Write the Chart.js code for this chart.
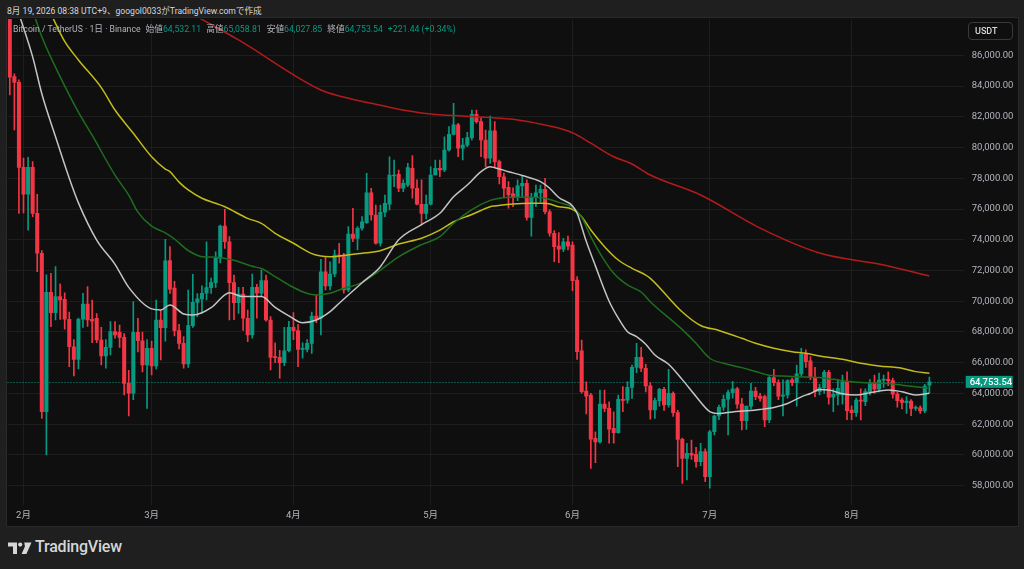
<!DOCTYPE html>
<html><head><meta charset="utf-8">
<script src="https://cdn.jsdelivr.net/npm/chart.js@4.4.1/dist/chart.umd.min.js"></script>
<style>
html,body{margin:0;padding:0;background:#1f1f1f;width:1024px;height:569px;overflow:hidden;font-family:Roboto,'Noto Sans CJK JP',sans-serif;}
#hdr{position:absolute;left:7px;top:5px;font-size:8.6px;color:#d6d8de;white-space:nowrap;line-height:12px;}
#panel{position:absolute;left:7px;top:18px;width:1011px;height:508px;background:#0f0f0f;outline:1px solid #2a2a2a;}
#wrap{position:absolute;left:0;top:0;width:1011px;height:508px;}
#legend{position:absolute;left:6px;top:5px;font-size:8.7px;color:#b2b5be;white-space:nowrap;line-height:12px;}
#legend .g{color:#089981}
#legend .k{margin-left:5px}
#usdt{position:absolute;left:961px;top:4px;width:45px;height:18px;box-sizing:border-box;border:1px solid #3a3a3a;border-radius:4px;color:#d8d8d8;font-size:9px;font-weight:500;line-height:16px;padding-left:6px;}
#logo{position:absolute;left:8px;top:540px;height:16px;}
#logotxt{position:absolute;left:35px;top:537px;font-size:16px;font-weight:500;color:#d6d6d6;letter-spacing:-0.2px;}
</style></head>
<body>
<div id="hdr">8月 19, 2026 08:38 UTC+9、googol0033がTradingView.comで作成</div>
<div id="panel">
  <div id="wrap"><canvas id="c"></canvas></div>
  <div id="legend">Bitcoin / TetherUS · 1日 · Binance<span class="k">始値</span><span class="g">64,532.11</span><span class="k">高値</span><span class="g">65,058.81</span><span class="k">安値</span><span class="g">64,027.85</span><span class="k">終値</span><span class="g">64,753.54</span><span class="g k">+221.44 (+0.34%)</span></div>
  <div id="usdt">USDT</div>
</div>
<svg id="logo" width="24" height="14" viewBox="0 0 24 14"><path d="M0 1.5H9V13H5V5.5H0Z" fill="#d6d6d6"/><circle cx="12.2" cy="3.6" r="2.1" fill="#d6d6d6"/><path d="M16.3 1.5H23.5L18.4 13H13.6L16.9 5.6Z" fill="#d6d6d6"/></svg>
<div id="logotxt">TradingView</div>
<script>
// ---- categories: daily candles from 2026-01-29, axis extends to the right ----
const startDateUTC = Date.UTC(2026, 0, 29);
const dayCount = 209;
const dayLabels = [];
for (let i = 0; i < dayCount; i++) {
  const dt = new Date(startDateUTC + i * 86400000);
  dayLabels.push((dt.getUTCMonth() + 1) + '/' + dt.getUTCDate());
}
// ---- OHLC ----
const openP = [88500,84610,84240,78710,76960,78710,75720,73120,62810,70580,69250,70300,70130,68830,67040,66220,68830,69820,68830,68890,67480,66440,67000,68020,67980,67650,64660,64010,67980,67430,65850,66940,65790,68780,68280,72640,70850,68090,67260,65920,68410,69930,70150,70520,70880,71210,72790,74890,73870,71210,69900,70470,68890,67800,70910,70520,71340,68780,66400,66350,66000,66780,68300,68090,66870,66870,67260,69040,68890,71920,70990,71770,73010,73010,70730,74370,74090,74750,75110,77060,75610,73770,75790,76310,78150,78260,77350,77560,78650,77350,76310,75720,76310,78210,78650,78540,79840,80860,81470,79950,80160,80640,82160,81680,80490,79300,81090,79080,78100,77410,76980,76760,77500,77670,75460,76760,77060,77280,75820,74420,73590,73380,73870,73660,71380,66780,64160,63900,61080,60840,63310,63030,61730,61450,63620,63570,64400,65700,66350,65640,64490,62920,63530,64270,63250,64010,62750,61010,59780,60100,60040,59560,60210,58590,61510,62530,63100,63620,64050,64300,63310,62230,63180,64160,63830,63790,62270,65030,64700,63830,63900,64880,64700,65270,66550,66130,65050,64120,64380,65370,63750,63900,63900,64770,62920,62750,63570,63470,64120,64700,64270,64870,64920,64830,63960,63570,63400,63510,63030,63070,62860,64532.11];
const highP = [88800,84800,84400,79320,79360,79080,76960,73300,71710,71820,72250,71130,70540,69300,67500,68900,70520,70950,70080,69200,68300,67500,68670,68670,68450,67900,65500,69970,68890,68000,67500,67400,70080,69400,74030,73550,71300,68500,67700,70730,71750,70500,71000,73870,71500,73220,74950,75980,74200,71700,70910,70910,69430,71770,71100,72030,71700,69000,67300,66800,68300,68700,69260,68500,67300,67500,69300,70410,72730,72900,72570,73330,73770,73120,74850,76050,74850,75500,78320,77350,76260,76260,76910,79400,79190,78540,77890,78970,79470,77890,77890,76910,78750,79190,79190,80700,81360,82880,81580,80600,80990,82440,82440,81940,81140,82050,81680,79190,78340,77780,77370,77890,78150,77890,77020,77560,77560,78000,75940,74590,74460,74090,74240,73870,71600,67480,64760,64010,61510,64220,64220,63460,62810,63900,64440,64760,65850,67260,67000,65900,64700,63700,64330,64400,65570,64100,62900,61100,60750,60970,60500,60750,60400,61600,62600,63250,63900,64220,64770,64400,63680,63180,64660,64400,64000,63900,65100,65570,64880,64880,64900,65000,65850,66940,66830,66400,65700,64600,65500,65500,64300,64900,65200,65400,63200,63700,64300,64300,64900,65200,65330,65200,65400,65000,64100,63700,63800,63600,63200,63200,64600,65058.81];
const lowP = [83420,81140,75720,75740,74630,75500,71920,62380,60000,68340,68780,68820,68180,65740,65140,65600,68300,68360,67300,67300,65850,65640,66500,67600,67000,63900,62530,63600,66700,65400,63030,65200,65600,66180,67400,70500,67740,66900,65640,65700,68300,68990,69200,70080,70500,70900,72500,73440,68780,68800,69200,68100,67370,67600,68900,70300,68700,65530,66000,64990,65800,66700,67500,65740,66300,66700,66610,68600,67800,70730,70730,71600,72470,70520,70620,73870,73330,74630,75070,75280,73720,73600,75500,75940,77450,77130,77130,77450,76700,76260,74960,75350,76260,78210,78100,78430,79770,80820,79400,79190,80050,80490,81580,79400,78750,78970,78750,77630,76760,76050,76150,76540,76800,75280,74240,76150,76480,75680,74240,72570,72510,73220,73330,70690,66220,64010,62660,59130,59490,60760,62810,60760,60760,61410,62810,63360,63680,65350,65420,64100,62320,62380,63180,62900,63100,62500,59240,58150,58370,59700,59200,59300,58260,57830,61300,62300,62900,61300,63700,63030,61620,61660,63000,63600,63500,61840,62100,64500,63600,62530,63700,64500,63180,65100,65700,64900,63790,63900,64000,63300,62810,63250,63300,62300,62300,62500,62270,63200,63900,64000,64100,64400,64500,63700,63100,63000,62700,62550,62900,62700,62750,64027.85];
const closeP = [84570,84240,78710,76960,78710,75720,73120,62810,70580,69250,70300,70080,68830,67040,66220,68830,69820,68780,68700,67480,66440,67000,68020,67800,67650,64660,64010,67980,67430,65850,66940,65790,68780,68280,72620,70780,68090,67260,65920,68410,69930,70150,70520,70880,71210,72790,74890,73870,71210,69900,70470,68890,67800,70910,70520,71340,68780,66350,66330,66000,66780,68300,68090,66870,66940,67260,69040,68820,71920,70990,71770,73010,72900,70730,74370,74090,74750,75170,77060,75610,73770,75790,76370,78210,78210,77350,77670,78690,77350,76310,75720,76310,78210,78650,78540,79840,80860,81470,79950,80160,80640,82160,81680,80490,79300,81090,79080,78100,77350,76910,76760,77500,77670,75460,76760,77060,77280,75820,74420,73550,73380,73870,73590,71340,66720,64110,63830,61020,60840,63310,63030,61670,61450,63620,63550,64400,65700,66350,65640,64490,62920,63530,64270,63250,64010,62750,61010,59780,60100,59990,59560,60210,58590,61510,62530,63100,63620,64050,64300,63310,62230,63180,64160,63790,63680,62270,65030,64700,63830,63900,64830,64700,65270,66550,66070,65050,64120,64380,65370,63750,63940,64330,64770,62880,62750,63570,63500,64120,64700,64270,64870,64920,64830,63960,63530,63420,63500,63030,63070,62860,64480,64753.54];
// ---- moving averages (day index from 1/29, value) ----
const maWhiteDays = [2,5,7,10,13,15,19,23,26,31,33,35,38,40,44,47,48,51,55,58,61,64,67,70,72,77,81,85,90,94,97,100,103,105,106,109,112,116,118,120,123,124,126,128,131,133,135,137,139,141,144,147,150,153,155,158,161,164,167,170,173,175,177,179,182,185,188,192,195,198,201];
const maWhiteVals = [88700,85900,83500,80700,78000,76400,73980,72400,70900,69500,69430,69750,69170,69100,69580,70420,70550,70300,70300,69600,69050,68600,68780,69320,69870,71200,72250,74000,74990,75720,76800,77560,78430,78750,78690,78430,78180,77780,77350,76750,76200,75720,73900,72300,70000,68900,68020,67700,67200,66500,65900,64900,63800,62820,62700,62800,62870,62960,63090,63350,63780,64000,64250,64230,63980,63900,64050,64220,64110,63900,64010];
const maGreenDays = [5,7,11,15,18,23,26,28,31,34,36,39,42,45,49,53,55,58,61,64,67,70,72,77,81,85,90,94,97,101,105,107,110,114,117,120,123,125,127,129,132,135,138,140,147,150,153,156,160,163,166,169,172,177,180,184,187,191,195,198,201];
const maGreenVals = [88900,87210,84610,82300,80800,78200,76900,75800,74880,74450,74050,73300,72900,72860,72670,72270,72130,71600,71060,70620,70410,70520,70730,71230,72030,72890,73680,74200,75070,75960,76560,76700,76760,76760,76700,76430,76100,75450,74200,73120,71820,71060,70600,69970,68150,67270,66290,65960,65680,65430,65180,65130,65090,65040,64920,64760,64700,64660,64540,64440,64330];
const maYellowDays = [9,12,15,20,23,27,31,34,35,37,39,42,45,47,52,55,58,62,66,68,70,72,77,81,85,90,94,97,101,105,106,110,114,117,120,123,125,127,130,133,136,139,140,147,151,155,160,163,167,171,174,177,182,186,190,195,198,201];
const maYellowVals = [88700,86900,85700,83900,82440,80930,79400,78600,78430,77750,77240,76700,76370,76150,75390,75070,74420,73770,73100,72940,72900,72940,73120,73290,73720,74100,74630,75170,75640,76150,76200,76330,76370,76370,76150,75980,75500,74630,73550,72680,72140,71700,71490,69300,68420,68100,67590,67260,66940,66720,66610,66440,66220,65960,65790,65640,65420,65310];
const maRedDays = [41,50,68,72,79,85,92,99,105,110,118,123,127,132,136,140,151,164,177,191,201];
const maRedVals = [88500,87000,83740,83350,82880,82490,82180,82050,81950,81840,81400,80960,80280,79400,78930,78210,76910,74760,73140,72360,71640];
// ---- price axis ticks ----
const priceTicks = [58000,60000,62000,64000,66000,68000,70000,72000,74000,76000,78000,80000,82000,84000,86000];
const lastPrice = 64753.54;

const UP = '#089981', DOWN = '#f23645';
const bodies = [], wicks = [], candleColors = [];
for (let i = 0; i < dayCount; i++) {
  if (i < openP.length) {
    bodies.push([Math.min(openP[i], closeP[i]), Math.max(openP[i], closeP[i])]);
    wicks.push([lowP[i], highP[i]]);
    candleColors.push(closeP[i] >= openP[i] ? UP : DOWN);
  } else { bodies.push(null); wicks.push(null); candleColors.push(UP); }
}
function sampled(days, vals) {
  const arr = new Array(dayCount).fill(null);
  days.forEach((d, k) => { arr[d] = vals[k]; });
  return arr;
}
const lineDs = (data, color, order) => ({
  type: 'line', data, borderColor: color, borderWidth: 1.5, pointRadius: 0,
  spanGaps: true, cubicInterpolationMode: 'monotone', order, clip: 0
});

const priceLine = {
  id: 'priceLine',
  beforeDatasetsDraw(chart) {
    const {ctx, chartArea: a, scales: {y}} = chart;
    const py = Math.round(y.getPixelForValue(lastPrice)) + 0.5;
    ctx.save();
    ctx.strokeStyle = UP; ctx.lineWidth = 1; ctx.setLineDash([1, 2]);
    ctx.beginPath(); ctx.moveTo(a.left, py); ctx.lineTo(a.right, py); ctx.stroke();
    ctx.restore();
  },
  afterDraw(chart) {
    const {ctx, chartArea: a, scales: {y}} = chart;
    const py = y.getPixelForValue(lastPrice);
    ctx.save();
    ctx.fillStyle = UP;
    ctx.fillRect(a.right + 2, py - 6, 47, 12);
    ctx.fillStyle = '#ffffff';
    ctx.font = '500 9.5px Roboto, sans-serif';
    ctx.textBaseline = 'middle'; ctx.textAlign = 'left';
    ctx.fillText(lastPrice.toLocaleString('en-US', {minimumFractionDigits: 2}), a.right + 6, py + 0.5);
    ctx.restore();
  }
};
function noPad(s) { s.paddingTop = 0; s.paddingBottom = 0; s.paddingLeft = 0; s.paddingRight = 0; }

Chart.defaults.font.family = "Roboto, 'Noto Sans CJK JP', sans-serif";
new Chart(document.getElementById('c'), {
  type: 'bar',
  data: {
    labels: dayLabels,
    datasets: [
      lineDs(sampled(maWhiteDays, maWhiteVals), '#c4c4c4', 1),
      lineDs(sampled(maGreenDays, maGreenVals), '#1f6e1f', 1),
      lineDs(sampled(maYellowDays, maYellowVals), '#c2bb1a', 1),
      lineDs(sampled(maRedDays, maRedVals), '#b31b1b', 1),
      {data: wicks, backgroundColor: candleColors, barThickness: 1, grouped: false, order: 4, borderWidth: 0},
      {data: bodies, backgroundColor: candleColors, barThickness: 3.4, grouped: false, order: 3, borderWidth: 0, minBarLength: 1}
    ]
  },
  options: {
    responsive: true, maintainAspectRatio: false, animation: false, devicePixelRatio: 1,
    layout: {padding: {left: 0.5, top: 1, right: 0, bottom: 0}},
    plugins: {legend: {display: false}, tooltip: {enabled: false}},
    scales: {
      x: {
        type: 'category', offset: true,
        grid: {offset: false, color: '#1d1d1d', drawTicks: false},
        border: {display: false},
        ticks: {
          autoSkip: false, maxRotation: 0, minRotation: 0, padding: 5, color: '#b2b5be',
          font: {size: 9.5},
          callback: function (v) {
            const lab = this.getLabelForValue(v).split('/');
            return lab[1] === '1' ? lab[0] + '月' : null;
          }
        },
        afterFit: s => { s.height = 21; noPad(s); }
      },
      y: {
        position: 'right', min: 56742, max: 88362,
        grid: {color: '#1d1d1d', drawTicks: false},
        border: {display: false},
        ticks: {
          padding: 8, color: '#b2b5be', font: {size: 9.5},
          callback: v => Number(v).toLocaleString('en-US', {minimumFractionDigits: 2})
        },
        afterBuildTicks: s => { s.ticks = priceTicks.map(v => ({value: v})); },
        afterFit: s => { s.width = 54.3; noPad(s); }
      }
    }
  },
  plugins: [priceLine]
});
</script>
</body></html>
